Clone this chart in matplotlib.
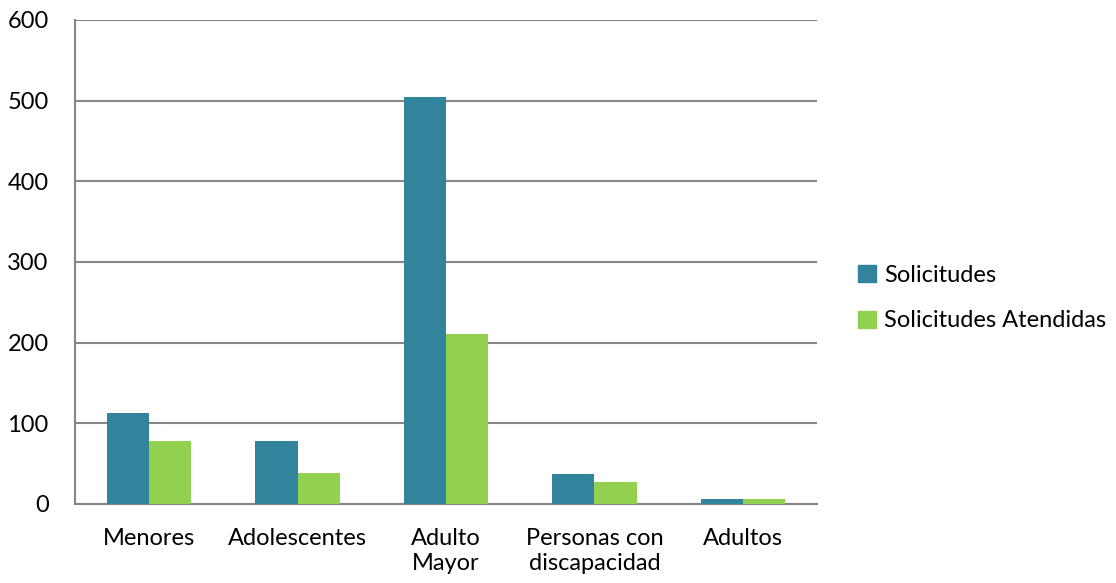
import numpy as np
import matplotlib.pyplot as plt
from matplotlib.patches import Patch

categories = ['Menores', 'Adolescentes', 'Adulto\nMayor', 'Personas con\ndiscapacidad', 'Adultos']
solicitudes = [113, 78, 504, 37, 6]
atendidas = [78, 39, 211, 27, 6]
yticks = [0, 100, 200, 300, 400, 500, 600]

teal = '#31849B'
green = '#92D050'
grid_color = '#868686'

plt.rcParams['font.family'] = ['Lato', 'DejaVu Sans']
fs = 17

fig = plt.figure(figsize=(11.16, 5.83), dpi=100)
ax = fig.add_axes([75 / 1116, 1 - 504 / 583, 742 / 1116, 484 / 583])

x = np.arange(len(categories))
w = 0.285
ax.bar(x - w / 2, solicitudes, w, color=teal, zorder=3)
ax.bar(x + w / 2, atendidas, w, color=green, zorder=3)

ax.set_xlim(-0.5, len(categories) - 0.5)
ax.set_ylim(0, 600)
ax.set_yticks(yticks)
ax.set_xticks(x)
ax.set_xticklabels(categories, fontsize=fs, linespacing=1.25)
ax.tick_params(axis='x', length=0, pad=17)
ax.tick_params(axis='y', length=0, pad=19, labelsize=fs)

ax.yaxis.grid(True, color=grid_color, linewidth=1.5, zorder=0)
for s in ['top', 'right']:
    ax.spines[s].set_visible(False)
for s in ['left', 'bottom']:
    ax.spines[s].set_color(grid_color)
    ax.spines[s].set_linewidth(1.5)

handles = [Patch(color=teal, label='Solicitudes'),
           Patch(color=green, label='Solicitudes Atendidas')]
fig.legend(handles=handles, loc='center left', bbox_to_anchor=(837 / 1116, 1 - 298 / 583),
           frameon=False, fontsize=fs, handlelength=0.75, handleheight=0.75,
           handletextpad=0.35, labelspacing=1.05)

fig.savefig('out.png', dpi=100, facecolor='white')
